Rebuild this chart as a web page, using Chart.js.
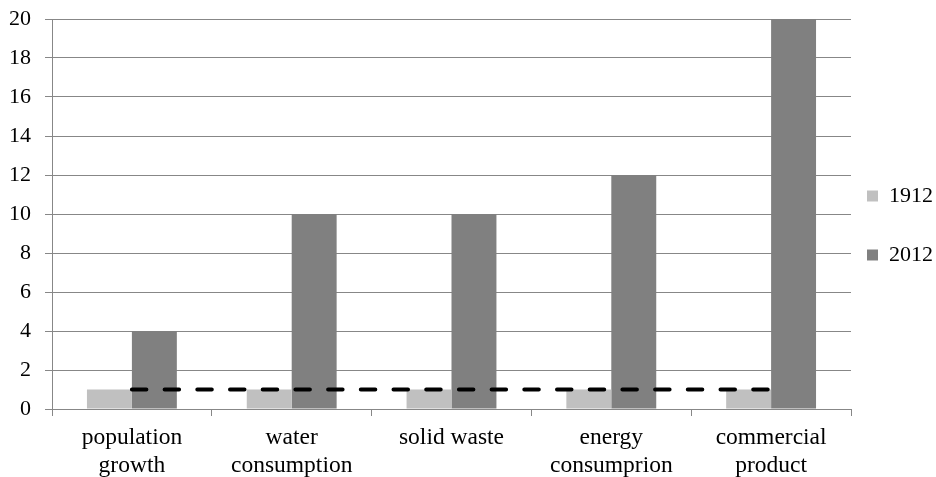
<!DOCTYPE html>
<html>
<head>
<meta charset="utf-8">
<script src="https://cdn.jsdelivr.net/npm/chart.js@4/dist/chart.umd.min.js"></script>
<style>
  html, body { margin: 0; padding: 0; background: #fff; overflow: hidden; }
  #wrap { width: 936px; height: 477px; }
</style>
</head>
<body>
<div id="wrap"><canvas id="c" width="936" height="477"></canvas></div>
<script>
// Categories (multi-line labels as arrays)
const categories = [
  ['population', 'growth'],
  ['water', 'consumption'],
  'solid waste',
  ['energy', 'consumprion'],
  ['commercial', 'product']
];
const seriesNames = ['1912', '2012'];
const values1912 = [1, 1, 1, 1, 1];
const values2012 = [4, 10, 10, 12, 20];
// Reference level drawn as a dashed line across the groups
const baseline = [1, 1, 1, 1, 1];
const yTicks = { min: 0, max: 20, step: 2 };

const GRID = '#878787';
Chart.defaults.font.family = "'Liberation Serif', 'Times New Roman', serif";
Chart.defaults.color = '#000';

// Raise the legend column a little so it sits beside the middle gridlines
const legendLift = {
  id: 'legendLift',
  afterLayout(chart) {
    const lg = chart.legend;
    if (lg) { lg.top -= 8; lg.bottom -= 8; }
  }
};

new Chart(document.getElementById('c'), {
  type: 'bar',
  plugins: [legendLift],
  data: {
    labels: categories,
    datasets: [
      {
        type: 'line',
        label: 'baseline',
        data: baseline,
        borderColor: '#000',
        borderWidth: 4,
        borderDash: [14.5, 18.2],
        borderCapStyle: 'round',
        pointRadius: 0,
        fill: false,
        order: 0
      },
      {
        label: seriesNames[0],
        data: values1912,
        backgroundColor: '#c0c0c0',
        borderWidth: 0,
        order: 1
      },
      {
        label: seriesNames[1],
        data: values2012,
        backgroundColor: '#808080',
        borderWidth: 0,
        order: 2
      }
    ]
  },
  options: {
    responsive: false,
    animation: false,
    datasets: {
      bar: { categoryPercentage: 0.5625, barPercentage: 1.0 }
    },
    layout: { padding: { top: 11, left: 0, right: -7, bottom: 0 } },
    plugins: {
      tooltip: { enabled: false },
      legend: {
        position: 'right',
        labels: {
          boxWidth: 11,
          boxHeight: 11,
          padding: 16,
          color: '#000',
          font: { size: 22, lineHeight: '43px' },
          generateLabels(chart) {
            return Chart.defaults.plugins.legend.labels.generateLabels(chart)
              .filter(item => item.datasetIndex > 0)
              .map(item => Object.assign({}, item, { text: [item.text] }));
          }
        }
      }
    },
    scales: {
      x: {
        offset: true,
        grid: {
          display: true,
          drawOnChartArea: false,
          drawTicks: true,
          tickLength: 7,
          offset: true,
          color: GRID
        },
        border: { display: true, color: GRID },
        ticks: {
          padding: 8,
          maxRotation: 0,
          autoSkip: false,
          font: { size: 23.5 },
          color: '#000'
        },
        afterFit(scale) { scale.height = 68; }
      },
      y: {
        min: yTicks.min,
        max: yTicks.max,
        grid: { color: GRID, tickLength: 7 },
        border: { display: true, color: GRID },
        ticks: {
          stepSize: yTicks.step,
          padding: 14,
          font: { size: 22 },
          color: '#000'
        },
        afterFit(scale) {
          scale.width = 52;
          scale.paddingTop = 19;
        }
      }
    }
  }
});
</script>
</body>
</html>
